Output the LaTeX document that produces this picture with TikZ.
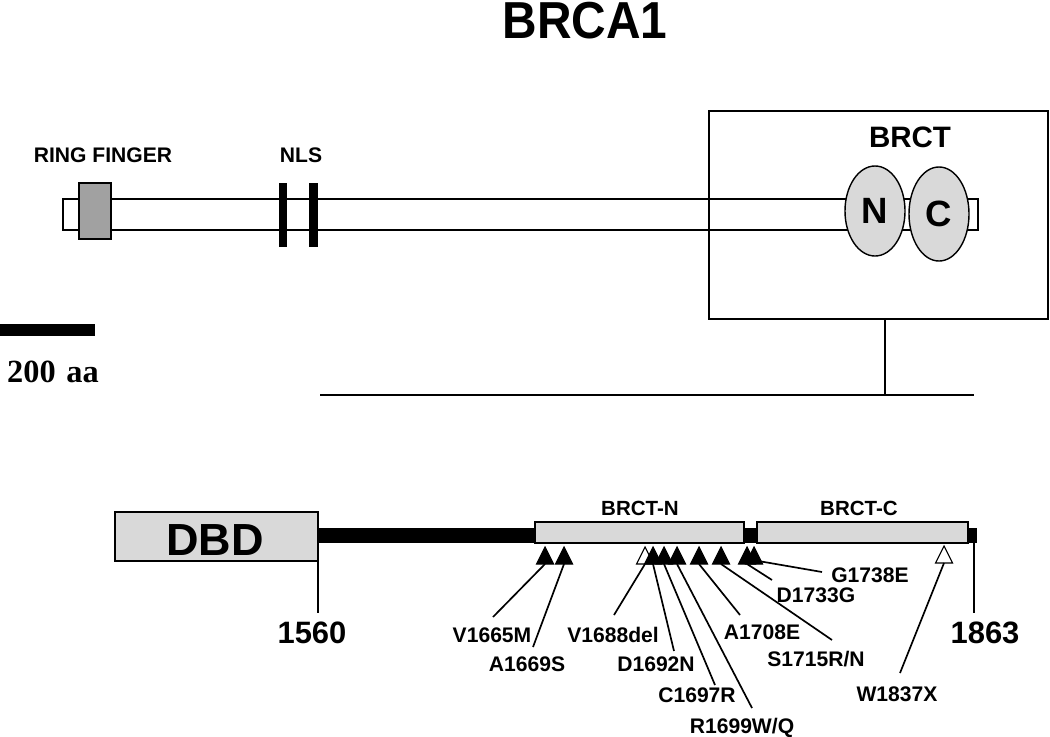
\documentclass[tikz,border=0pt]{standalone}
\usepackage{fontspec}
\setmainfont{Liberation Sans}
\newfontfamily\serifbold{Liberation Serif}
\newfontfamily\titlefont[FakeStretch=0.92]{Liberation Sans}
\usetikzlibrary{shapes.geometric}
\definecolor{ringgray}{gray}{0.63}
\definecolor{domgray}{gray}{0.85}

\begin{document}
\begin{tikzpicture}[x=0.025cm,y=-0.025cm,line width=1.2pt,
  lbl/.style={font=\bfseries\fontsize{15}{15}\selectfont,anchor=base,inner sep=0pt},
  hit/.style={fill=black,draw=black,line width=0.8pt},
  del/.style={fill=white,draw=black,line width=0.8pt},
  dom/.style={ellipse,draw,fill=domgray,line width=1pt,minimum width=1.5cm,inner sep=0pt,
    font=\bfseries\fontsize{26}{26}\selectfont}]

\useasboundingbox (0,0) rectangle (1050,736);

\node[anchor=base,inner sep=0pt,font=\titlefont\bfseries\fontsize{37}{37}\selectfont] (title) at (585,39) {BRCA1};

\draw[fill=white,line width=1.5pt] (63,199) rectangle (978,230);
\draw[fill=ringgray,line width=1.5pt] (79,183) rectangle (111,239);
\fill (279,183) rectangle (287,247);
\fill (309,183) rectangle (318,247);
\node[anchor=base,inner sep=0pt,font=\bfseries\fontsize{15}{15}\selectfont] (ring) at (103,162) {RING FINGER};
\node[anchor=base,inner sep=0pt,font=\bfseries\fontsize{15}{15}\selectfont] (nls) at (301,162) {NLS};

\draw[line width=1.5pt] (709,111) rectangle (1048,319);
\node[anchor=base,inner sep=0pt,font=\bfseries\fontsize{21}{21}\selectfont] (brct) at (910,147) {BRCT};
\node[dom,minimum height=2.25cm] (brctn) at (875,211) {N};
\node[dom,minimum height=2.35cm] (brctc) at (939,214) {C};

\fill (0,324) rectangle (95,336);
\node[anchor=base,inner sep=0pt,font=\serifbold\bfseries\fontsize{23}{23}\selectfont] (scale) at (53,382) {200\,\,aa};

\coordinate (zoomtop) at (885,319);
\coordinate (zoomfoot) at (885,395);
\coordinate (zoomleft) at (320,395);
\coordinate (zoomright) at (974,395);
\draw (zoomtop) -- (zoomfoot);
\draw[line width=1.5pt] (zoomleft) -- (zoomright);

\fill (318,528) rectangle (977,543);
\draw[fill=domgray,line width=1.5pt] (115,512) rectangle (318,561);
\node[anchor=base,inner sep=0pt,font=\bfseries\fontsize{32}{32}\selectfont] (dbd) at (215,555) {DBD};
\draw[fill=domgray,line width=1.5pt] (535,522) rectangle (744,543);
\draw[fill=domgray,line width=1.5pt] (757,522) rectangle (968,543);
\node[anchor=base,inner sep=0pt,font=\bfseries\fontsize{14.6}{14.6}\selectfont] (brctnlbl) at (640,515) {BRCT-N};
\node[anchor=base,inner sep=0pt,font=\bfseries\fontsize{14.6}{14.6}\selectfont] (brctclbl) at (859,515) {BRCT-C};

\coordinate (start) at (318,561);
\coordinate (end) at (974,543);
\draw (start) -- ++(0,52) coordinate (startfoot);
\draw (end) -- (974,613) coordinate (endfoot);
\node[anchor=base,inner sep=0pt,font=\bfseries\fontsize{22}{22}\selectfont] (first) at (312,643) {1560};
\node[anchor=base,inner sep=0pt,font=\bfseries\fontsize{22}{22}\selectfont] (last) at (985,643) {1863};

\filldraw[hit] (545,564) coordinate (t1) -- ++(-8.5,0) -- ++(8.5,-17) -- ++(8.5,17) -- cycle;
\filldraw[hit] (564,564) coordinate (t2) -- ++(-8.5,0) -- ++(8.5,-17) -- ++(8.5,17) -- cycle;
\filldraw[del] (645,564) coordinate (t3) -- ++(-8.5,0) -- ++(8.5,-17) -- ++(8.5,17) -- cycle;
\filldraw[hit] (653,564) coordinate (t4) -- ++(-8.5,0) -- ++(8.5,-17) -- ++(8.5,17) -- cycle;
\filldraw[hit] (664,564) coordinate (t5) -- ++(-8.5,0) -- ++(8.5,-17) -- ++(8.5,17) -- cycle;
\filldraw[hit] (677,564) coordinate (t6) -- ++(-8.5,0) -- ++(8.5,-17) -- ++(8.5,17) -- cycle;
\filldraw[hit] (699,564) coordinate (t7) -- ++(-8.5,0) -- ++(8.5,-17) -- ++(8.5,17) -- cycle;
\filldraw[hit] (721,564) coordinate (t8) -- ++(-8.5,0) -- ++(8.5,-17) -- ++(8.5,17) -- cycle;
\filldraw[hit] (747,564) coordinate (t9) -- ++(-8.5,0) -- ++(8.5,-17) -- ++(8.5,17) -- cycle;
\filldraw[hit] (754,564) coordinate (t10) -- ++(-8.5,0) -- ++(8.5,-17) -- ++(8.5,17) -- cycle;
\filldraw[del] (944,563) coordinate (t11) -- ++(-8.5,0) -- ++(8.5,-17) -- ++(8.5,17) -- cycle;

\node[lbl] (m1) at (492,642) {V1665M};
\node[lbl] (m2) at (527,671) {A1669S};
\node[lbl] (m3) at (613,642) {V1688del};
\node[lbl] (m4) at (656,671) {D1692N};
\node[lbl] (m5) at (697,702) {C1697R};
\node[lbl] (m6) at (742,733) {R1699W/Q};
\node[lbl] (m7) at (762,639) {A1708E};
\node[lbl] (m8) at (816,666) {S1715R/N};
\node[lbl] (m9) at (816,602) {D1733G};
\node[lbl] (m10) at (870,582) {G1738E};
\node[lbl] (m11) at (897,701) {W1837X};

\coordinate (e1) at (493,617);
\coordinate (e2) at (533,647);
\coordinate (e3) at (614,615);
\coordinate (e4) at (674,651);
\coordinate (e5) at (715,685);
\coordinate (e6) at (752,708);
\coordinate (e7) at (740,615);
\coordinate (e8) at (832,640);
\coordinate (e9) at (772,580);
\coordinate (e10) at (822,572);
\coordinate (e11) at (900,673);

\draw (t1) -- (e1);
\draw (t2) -- (e2);
\draw (t3) -- (e3);
\draw (t4) -- (e4);
\draw (t5) -- (e5);
\draw (t6) -- (e6);
\draw (t7) -- (e7);
\draw (t8) -- (e8);
\draw (t9) -- (e9);
\draw ([xshift=0.08cm,yshift=0.08cm]t10) -- (e10);
\draw (t11) -- (e11);

\end{tikzpicture}
\end{document}
